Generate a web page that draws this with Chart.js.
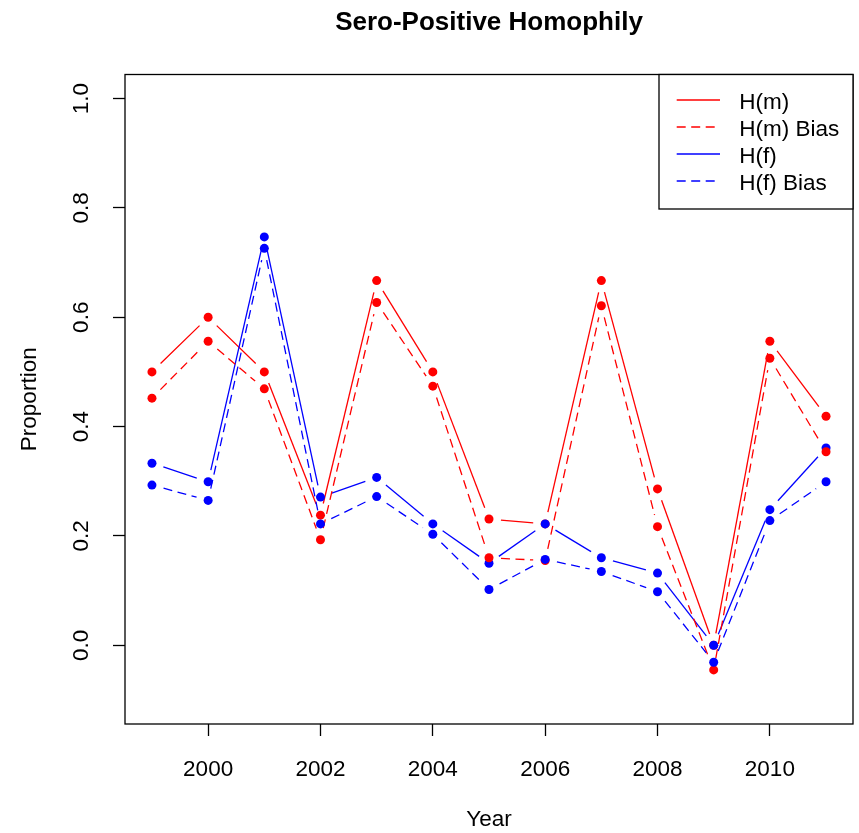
<!DOCTYPE html>
<html><head><meta charset="utf-8">
<script src="https://cdn.jsdelivr.net/npm/chart.js@4.4.1/dist/chart.umd.min.js"></script>
<style>html,body{margin:0;padding:0;background:#fff}</style>
</head><body>
<canvas id="c" width="859" height="833"></canvas>
<script>
const years = [1999, 2000, 2001, 2002, 2003, 2004, 2005, 2006, 2007, 2008, 2009, 2010, 2011];
const hM     = [0.500, 0.600, 0.500, 0.238, 0.667, 0.500, 0.231, 0.222, 0.667, 0.286, 0.000, 0.556, 0.419];
const hMBias = [0.452, 0.556, 0.469, 0.193, 0.627, 0.474, 0.160, 0.155, 0.621, 0.217, -0.045, 0.525, 0.354];
const hF     = [0.333, 0.299, 0.747, 0.271, 0.307, 0.222, 0.150, 0.222, 0.160, 0.132, 0.000, 0.248, 0.361];
const hFBias = [0.293, 0.265, 0.726, 0.222, 0.272, 0.203, 0.102, 0.157, 0.135, 0.098, -0.031, 0.228, 0.299];
const xTicks = [2000, 2002, 2004, 2006, 2008, 2010];
const yTicks = [0, 0.2, 0.4, 0.6, 0.8, 1.0];
const seriesLabels = ['H(m)', 'H(m) Bias', 'H(f)', 'H(f) Bias'];
const titleText = 'Sero-Positive Homophily';
const xTitle = 'Year';
const yTitle = 'Proportion';

const FONT = "'Liberation Sans', Arial, sans-serif";
const GAP = 12;
const DASH = [9, 5.5];
const LW = 1.3;

// R type="b": each segment stops short of the points
function gapDash(pattern) {
  return ctx => {
    const L = Math.hypot(ctx.p1.x - ctx.p0.x, ctx.p1.y - ctx.p0.y);
    if (L <= 2 * GAP) return [0, L + 0.001];
    const arr = [0, GAP];
    let rem = L - 2 * GAP;
    if (!pattern) { arr.push(rem, GAP); return arr; }
    let k = 0;
    while (rem > 1e-6) {
      const v = Math.min(pattern[k % pattern.length], rem);
      arr.push(v); rem -= v; k++;
    }
    if (k % 2 === 1) arr.push(GAP); else arr[arr.length - 1] += GAP;
    return arr;
  };
}

function makeSet(label, values, color, dashed, order) {
  return {
    label,
    data: years.map((x, i) => ({ x, y: values[i] })),
    borderColor: color,
    backgroundColor: color,
    pointBackgroundColor: color,
    pointBorderWidth: 0,
    pointRadius: 4.5,
    pointHoverRadius: 4.5,
    borderWidth: LW,
    tension: 0,
    fill: false,
    order,
    borderDash: dashed ? DASH : [],
    segment: { borderDash: gapDash(dashed ? DASH : null) }
  };
}

const framePlugin = {
  id: 'rframe',
  afterDraw(chart) {
    const { ctx, chartArea: a } = chart;
    ctx.save();
    // plot box
    ctx.strokeStyle = '#000';
    ctx.lineWidth = LW;
    ctx.strokeRect(a.left, a.top, a.right - a.left, a.bottom - a.top);
    // main title
    ctx.fillStyle = '#000';
    ctx.font = `bold 26px ${FONT}`;
    ctx.textAlign = 'center';
    ctx.textBaseline = 'alphabetic';
    ctx.fillText(titleText, (a.left + a.right) / 2, 29.5);
    // legend (topright)
    const w = 194, h = 134.5;
    const right = a.right, top = a.top, left = right - w;
    ctx.fillStyle = '#fff';
    ctx.fillRect(left, top, w, h);
    ctx.strokeStyle = '#000';
    ctx.lineWidth = LW;
    ctx.strokeRect(left, top, w, h);
    ctx.font = `22.5px ${FONT}`;
    ctx.textAlign = 'left';
    ctx.textBaseline = 'middle';
    chart.data.datasets.forEach((d, i) => {
      const y = top + 25.5 + 27 * i;
      ctx.strokeStyle = d.borderColor;
      ctx.lineWidth = d.borderWidth;
      ctx.setLineDash(d.borderDash || []);
      ctx.beginPath();
      ctx.moveTo(left + 17.7, y);
      ctx.lineTo(left + 61, y);
      ctx.stroke();
      ctx.setLineDash([]);
      ctx.fillStyle = '#000';
      ctx.fillText(d.label, left + 80.3, y + 3);
    });
    ctx.restore();
  }
};

const tickGrid = { display: true, drawOnChartArea: false, drawTicks: true, tickLength: 12, tickColor: '#000', tickWidth: LW };

new Chart(document.getElementById('c'), {
  type: 'line',
  data: {
    datasets: [
      makeSet(seriesLabels[0], hM, '#ff0000', false, 4),
      makeSet(seriesLabels[1], hMBias, '#ff0000', true, 2),
      makeSet(seriesLabels[2], hF, '#0000ff', false, 3),
      makeSet(seriesLabels[3], hFBias, '#0000ff', true, 1)
    ]
  },
  options: {
    responsive: false,
    animation: false,
    devicePixelRatio: 1,
    events: [],
    layout: { padding: { left: 0, right: 6, top: 74.5, bottom: 0 } },
    plugins: {
      legend: { display: false },
      tooltip: { enabled: false },
      title: { display: false }
    },
    scales: {
      x: {
        type: 'linear',
        min: 1998.52, max: 2011.48,
        afterBuildTicks: s => { s.ticks = xTicks.map(v => ({ value: v })); },
        afterFit: s => { s.height = 109; },
        grid: tickGrid,
        border: { display: false },
        ticks: {
          color: '#000', font: { family: FONT, size: 22.5 }, padding: 20,
          autoSkip: false, minRotation: 0, maxRotation: 0,
          callback: v => String(v)
        },
        title: { display: true, text: xTitle, color: '#000', font: { family: FONT, size: 22.5 }, padding: { top: 0, bottom: 0 } }
      },
      y: {
        type: 'linear',
        min: -0.144, max: 1.044,
        afterBuildTicks: s => { s.ticks = yTicks.map(v => ({ value: v })); },
        afterFit: s => { s.width = 125; },
        grid: tickGrid,
        border: { display: false },
        ticks: {
          color: '#000', font: { family: FONT, size: 22.5 }, padding: 16,
          autoSkip: false, minRotation: 90, maxRotation: 90, crossAlign: 'center',
          callback: v => Number(v).toFixed(1)
        },
        title: { display: true, text: yTitle, color: '#000', font: { family: FONT, size: 22.5 }, padding: { top: 15.8, bottom: 0 } }
      }
    }
  },
  plugins: [framePlugin]
});
</script>
</body></html>
